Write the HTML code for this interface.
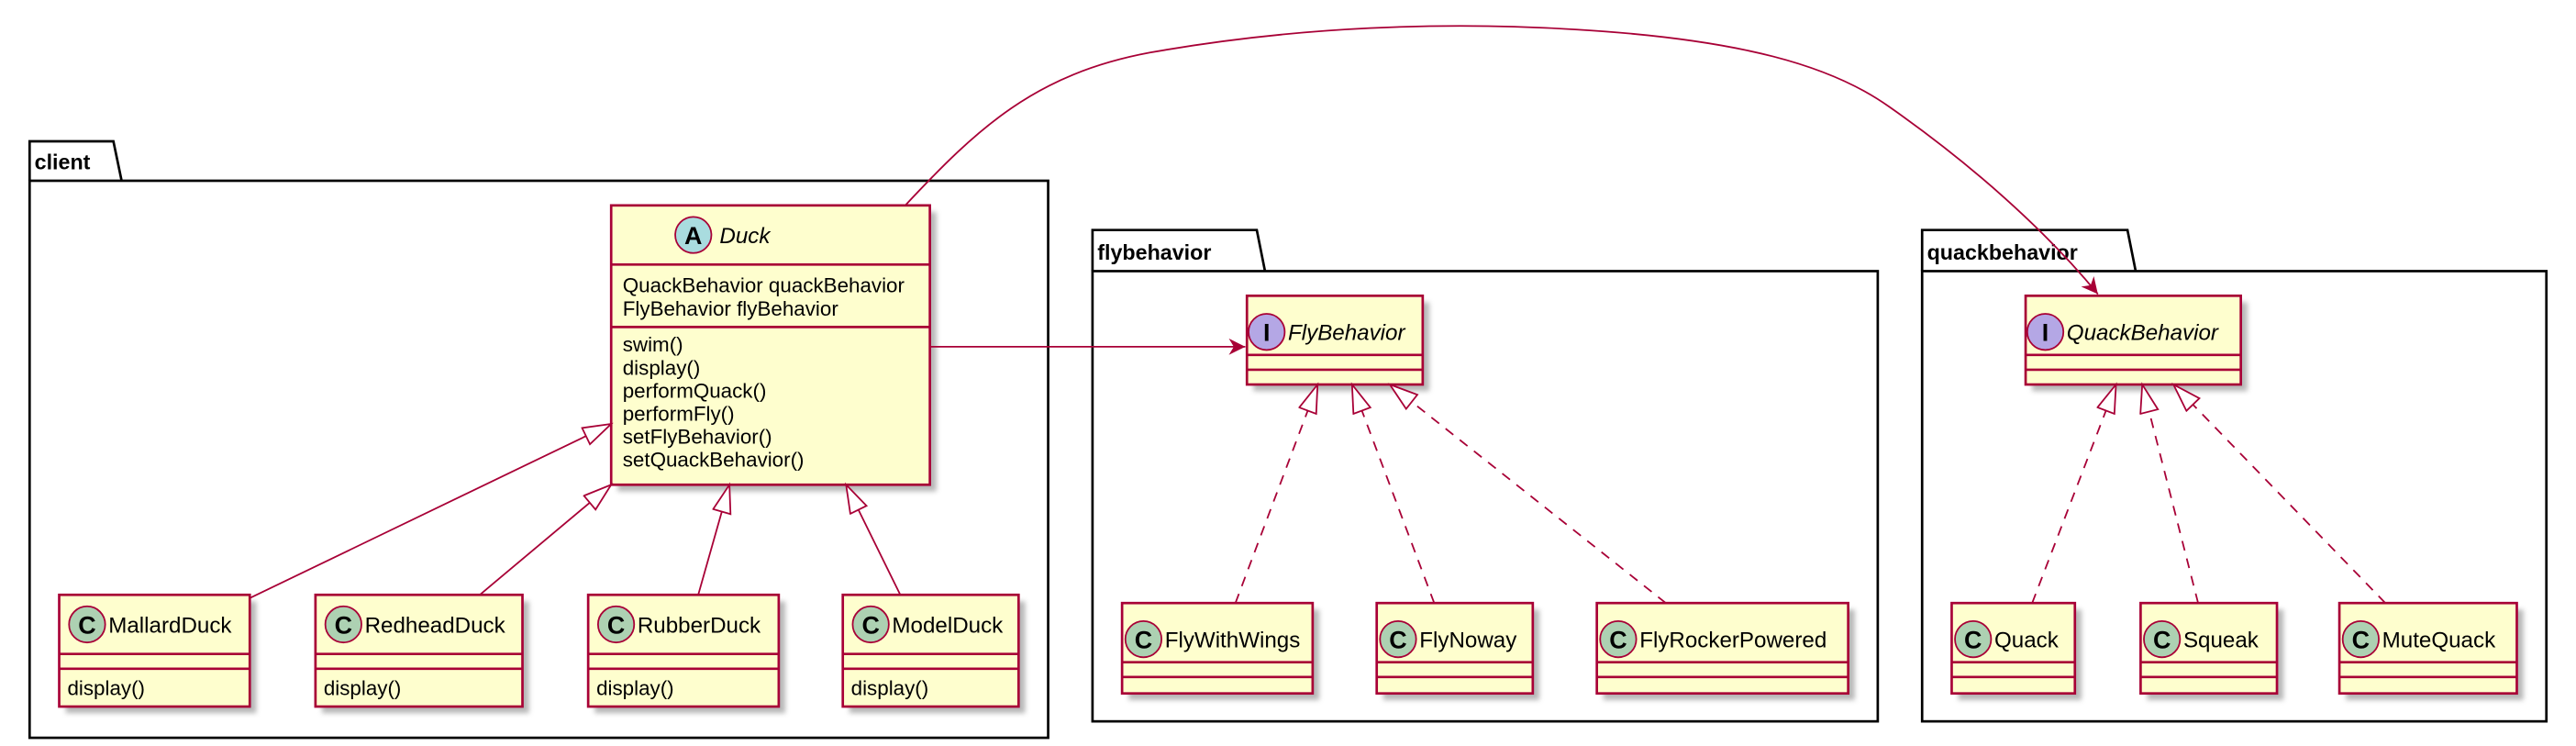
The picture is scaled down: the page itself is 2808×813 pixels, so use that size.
<!DOCTYPE html>
<html><head><meta charset="utf-8"><style>
html,body{margin:0;padding:0;background:#fff;}
svg{display:block;}
text{font-family:"Liberation Sans",sans-serif;}
</style></head><body>
<svg width="2808" height="813" viewBox="0 0 1568 454" xmlns="http://www.w3.org/2000/svg">
<defs>
<filter id="sh" x="-10%" y="-10%" width="130%" height="130%"><feGaussianBlur stdDeviation="1.5"/></filter>
<marker id="tri" markerUnits="userSpaceOnUse" markerWidth="22" markerHeight="16" refX="18" refY="6" orient="auto"><path d="M1,0.5 L18,6 L1,11.5 Z" fill="#fff" stroke="#A80036" stroke-width="1"/></marker>
<marker id="arr" markerUnits="userSpaceOnUse" markerWidth="14" markerHeight="12" refX="10" refY="5" orient="auto"><path d="M0,0 L10,5 L0,10 L3,5 Z" fill="#A80036"/></marker>
</defs>

<g stroke="#000" stroke-width="1.5" fill="#fff">
<path d="M18,110 L18,86 L69,86 L74,110"/>
<rect x="18" y="110" width="620" height="339"/>
<path d="M665,165 L665,140 L765,140 L770,165"/>
<rect x="665" y="165" width="478" height="274"/>
<path d="M1170,165 L1170,140 L1295,140 L1300,165"/>
<rect x="1170" y="165" width="380" height="274"/>
</g>
<g font-weight="bold" font-size="13">
<text x="21" y="103">client</text>
<text x="668" y="158">flybehavior</text>
<text x="1173" y="158">quackbehavior</text>
</g>

<g fill="#999" filter="url(#sh)" opacity="0.7">
<rect x="376" y="129" width="194" height="170"/>
<rect x="40" y="366" width="116" height="68"/>
<rect x="196" y="366" width="126" height="68"/>
<rect x="362" y="366" width="116" height="68"/>
<rect x="517" y="366" width="107" height="68"/>
<rect x="763" y="184" width="107" height="54"/>
<rect x="1237" y="184" width="131" height="54"/>
<rect x="687" y="371" width="116" height="55"/>
<rect x="842" y="371" width="95" height="55"/>
<rect x="976" y="371" width="153" height="55"/>
<rect x="1192" y="371" width="75" height="55"/>
<rect x="1307" y="371" width="83" height="55"/>
<rect x="1428" y="371" width="108" height="55"/>
</g>

<g fill="#FEFECE" stroke="#A80036" stroke-width="1.5">
<rect x="372" y="125" width="194" height="170"/>
<line x1="372" y1="161" x2="566" y2="161"/>
<line x1="372" y1="199" x2="566" y2="199"/>
<rect x="36" y="362" width="116" height="68"/><line x1="36" y1="398" x2="152" y2="398"/><line x1="36" y1="407" x2="152" y2="407"/>
<rect x="192" y="362" width="126" height="68"/><line x1="192" y1="398" x2="318" y2="398"/><line x1="192" y1="407" x2="318" y2="407"/>
<rect x="358" y="362" width="116" height="68"/><line x1="358" y1="398" x2="474" y2="398"/><line x1="358" y1="407" x2="474" y2="407"/>
<rect x="513" y="362" width="107" height="68"/><line x1="513" y1="398" x2="620" y2="398"/><line x1="513" y1="407" x2="620" y2="407"/>
<rect x="759" y="180" width="107" height="54"/><line x1="759" y1="216" x2="866" y2="216"/><line x1="759" y1="225" x2="866" y2="225"/>
<rect x="1233" y="180" width="131" height="54"/><line x1="1233" y1="216" x2="1364" y2="216"/><line x1="1233" y1="225" x2="1364" y2="225"/>
<rect x="683" y="367" width="116" height="55"/><line x1="683" y1="403" x2="799" y2="403"/><line x1="683" y1="412" x2="799" y2="412"/>
<rect x="838" y="367" width="95" height="55"/><line x1="838" y1="403" x2="933" y2="403"/><line x1="838" y1="412" x2="933" y2="412"/>
<rect x="972" y="367" width="153" height="55"/><line x1="972" y1="403" x2="1125" y2="403"/><line x1="972" y1="412" x2="1125" y2="412"/>
<rect x="1188" y="367" width="75" height="55"/><line x1="1188" y1="403" x2="1263" y2="403"/><line x1="1188" y1="412" x2="1263" y2="412"/>
<rect x="1303" y="367" width="83" height="55"/><line x1="1303" y1="403" x2="1386" y2="403"/><line x1="1303" y1="412" x2="1386" y2="412"/>
<rect x="1424" y="367" width="108" height="55"/><line x1="1424" y1="403" x2="1532" y2="403"/><line x1="1424" y1="412" x2="1532" y2="412"/>
</g>

<g stroke="#A80036" stroke-width="1">
<circle cx="422" cy="143" r="11" fill="#A9DCDF"/>
<circle cx="53" cy="380" r="11" fill="#ADD1B2"/>
<circle cx="209" cy="380" r="11" fill="#ADD1B2"/>
<circle cx="375" cy="380" r="11" fill="#ADD1B2"/>
<circle cx="530" cy="380" r="11" fill="#ADD1B2"/>
<circle cx="771" cy="202" r="11" fill="#B4A7E5"/>
<circle cx="1245" cy="202" r="11" fill="#B4A7E5"/>
<circle cx="696" cy="389" r="11" fill="#ADD1B2"/>
<circle cx="851" cy="389" r="11" fill="#ADD1B2"/>
<circle cx="985" cy="389" r="11" fill="#ADD1B2"/>
<circle cx="1201" cy="389" r="11" fill="#ADD1B2"/>
<circle cx="1316" cy="389" r="11" fill="#ADD1B2"/>
<circle cx="1437" cy="389" r="11" fill="#ADD1B2"/>
</g>
<g font-weight="bold" font-size="15" text-anchor="middle">
<text x="422" y="148.5">A</text>
<text x="53" y="385.5">C</text><text x="209" y="385.5">C</text><text x="375" y="385.5">C</text><text x="530" y="385.5">C</text>
<text x="771" y="207.5">I</text><text x="1245" y="207.5">I</text>
<text x="696" y="394.5">C</text><text x="851" y="394.5">C</text><text x="985" y="394.5">C</text>
<text x="1201" y="394.5">C</text><text x="1316" y="394.5">C</text><text x="1437" y="394.5">C</text>
</g>

<g font-size="12.5" fill="#000">
<text x="438" y="148" font-style="italic" font-size="13.5">Duck</text>
<text x="379" y="178">QuackBehavior quackBehavior</text>
<text x="379" y="192">FlyBehavior flyBehavior</text>
<text x="379" y="214">swim()</text>
<text x="379" y="228">display()</text>
<text x="379" y="242">performQuack()</text>
<text x="379" y="256">performFly()</text>
<text x="379" y="270">setFlyBehavior()</text>
<text x="379" y="284">setQuackBehavior()</text>

<g font-size="13.5">
<text x="66" y="385">MallardDuck</text>
<text x="222" y="385">RedheadDuck</text>
<text x="388" y="385">RubberDuck</text>
<text x="543" y="385">ModelDuck</text>
<text x="784" y="207" font-style="italic">FlyBehavior</text>
<text x="1258" y="207" font-style="italic">QuackBehavior</text>
<text x="709" y="394">FlyWithWings</text>
<text x="864" y="394">FlyNoway</text>
<text x="998" y="394">FlyRockerPowered</text>
<text x="1214" y="394">Quack</text>
<text x="1329" y="394">Squeak</text>
<text x="1450" y="394">MuteQuack</text>
</g>
<text x="41" y="423">display()</text>
<text x="197" y="423">display()</text>
<text x="363" y="423">display()</text>
<text x="518" y="423">display()</text>
</g>

<g stroke="#A80036" stroke-width="1" fill="none">
<line x1="152" y1="364" x2="372" y2="258" marker-end="url(#tri)"/>
<line x1="292" y1="362" x2="372" y2="295" marker-end="url(#tri)"/>
<line x1="425" y1="362" x2="444" y2="295" marker-end="url(#tri)"/>
<line x1="548" y1="362" x2="515" y2="295" marker-end="url(#tri)"/>
<g stroke-dasharray="6,5">
<line x1="752" y1="367" x2="802" y2="234" marker-end="url(#tri)"/>
<line x1="873" y1="367" x2="823" y2="234" marker-end="url(#tri)"/>
<line x1="1014" y1="367" x2="846" y2="234" marker-end="url(#tri)"/>
<line x1="1237" y1="367" x2="1288" y2="234" marker-end="url(#tri)"/>
<line x1="1338" y1="367" x2="1304" y2="234" marker-end="url(#tri)"/>
<line x1="1452" y1="367" x2="1323" y2="234" marker-end="url(#tri)"/>
</g>
<line x1="566" y1="211" x2="758" y2="211" marker-end="url(#arr)"/>
<path d="M551,125 C595,78 630,45 700,32 C790,16 880,13 960,18 C1060,24 1115,40 1150,65 C1200,100 1245,140 1277,179" marker-end="url(#arr)"/>
</g>
</svg>
</body></html>
